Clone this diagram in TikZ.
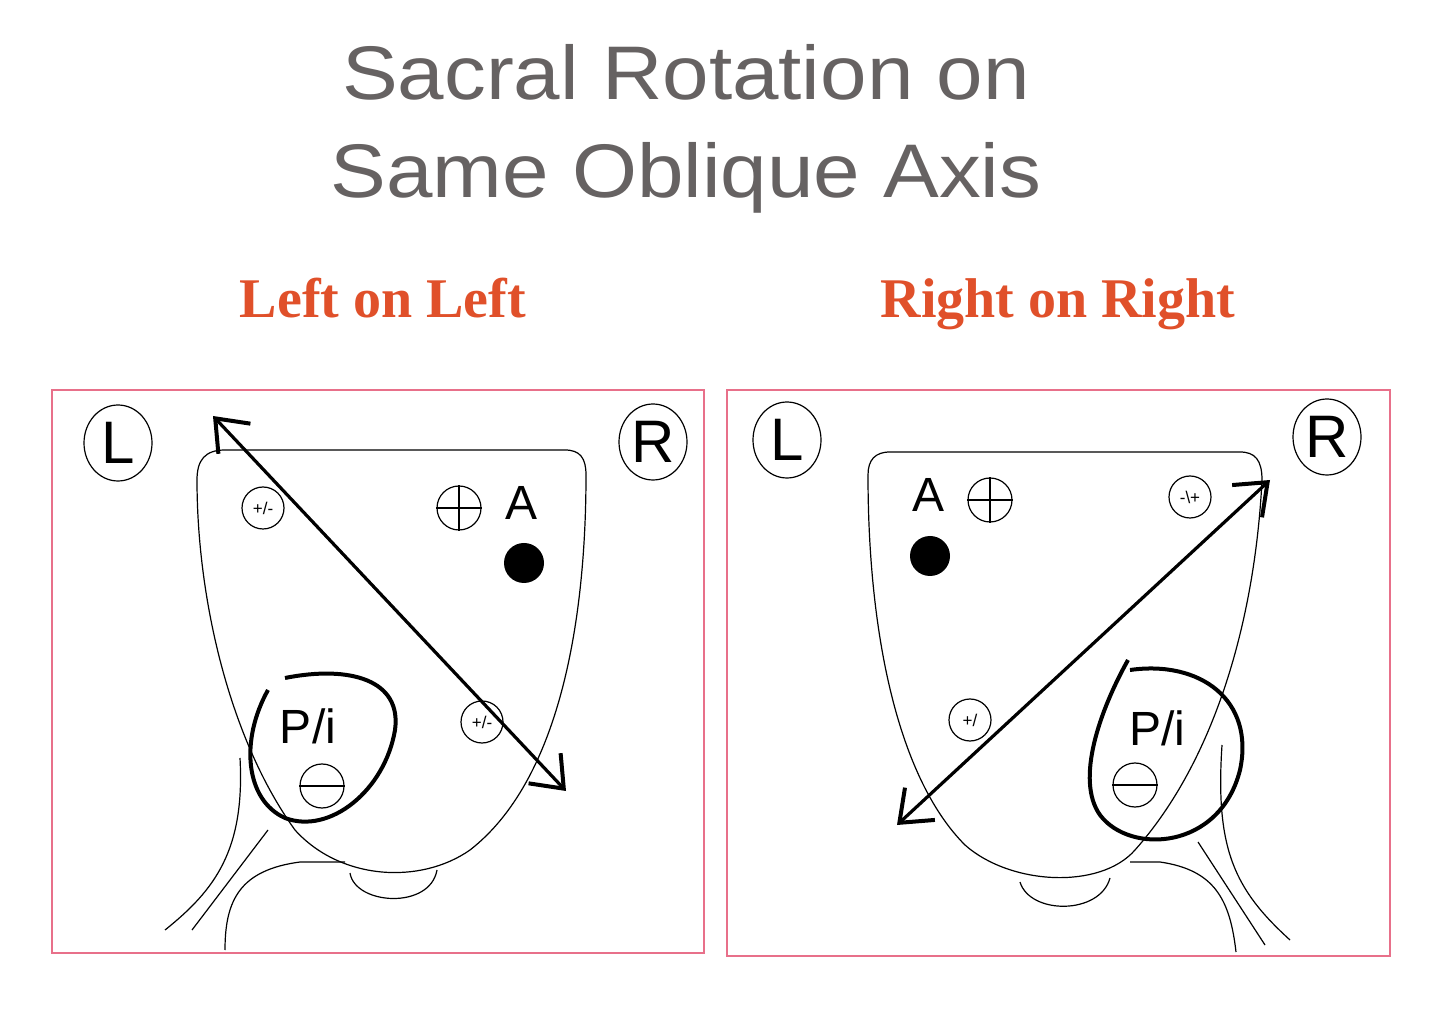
\documentclass[tikz,border=0pt]{standalone}
\usepackage{fontspec}
\setmainfont{Liberation Serif}
\setsansfont{Liberation Sans}
\usetikzlibrary{arrows.meta,shapes.geometric}
\definecolor{pinkb}{HTML}{E8708A}
\definecolor{ttl}{HTML}{666262}
\definecolor{sub}{HTML}{E0502A}
\tikzset{
 thin/.style={line width=0.6pt},
 axis/.style={line width=1.6pt,{Straight Barb[length=14pt,width=22pt,line width=2pt]}-{Straight Barb[length=14pt,width=22pt,line width=2pt]}},
 loop/.style={line width=2pt},
 lr/.style={draw,thin,ellipse,inner sep=0pt,minimum width=34pt,minimum height=38pt,font=\sffamily\fontsize{30}{30}\selectfont},
 sm/.style={draw,thin,circle,inner sep=0pt,minimum size=21pt,font=\sffamily\fontsize{8.5}{8.5}\selectfont},
 lab/.style={font=\sffamily\fontsize{24}{24}\selectfont},
 ttlstyle/.style={text=ttl,font=\sffamily\fontsize{38}{38}\selectfont,xscale=1.1},
 substyle/.style={text=sub,font=\bfseries\fontsize{28}{28}\selectfont,anchor=base}
}
\begin{document}
\begin{tikzpicture}[x=0.5pt,y=-0.5pt]
\useasboundingbox (0,0) rectangle (1440,1020);
\node[ttlstyle] (t1) at (686,72) {Sacral Rotation on};
\node[ttlstyle] (t2) at (686,178) {Same Oblique Axis};
\node[substyle] (s1) at (383,318) {Left on Left};
\node[substyle] (s2) at (1058,318) {Right on Right};
% boxes
\draw[pinkb,line width=1pt] (52,390) rectangle (704,953);
\draw[pinkb,line width=1pt] (727,390) rectangle (1390,956);
%% LEFT PANEL
\node[lr] (L1) at (118,443) {L};
\node[lr] (R1) at (653,442) {R};
\draw[thin] (197,480) .. controls (197,460) and (205,450) .. (225,450) -- (565,450) .. controls (580,450) and (586,458) .. (586,475)
  .. controls (586,620) and (560,780) .. (470,850) .. controls (420,885) and (340,880) .. (295,830)
  .. controls (230,740) and (197,600) .. (197,480);
\draw[thin] (350,873) .. controls (355,905) and (430,910) .. (437,870);
\draw[thin] (240,758) .. controls (245,850) and (215,890) .. (165,930);
\draw[thin] (268,830) -- (192,930);
\draw[thin] (225,950) .. controls (225,900) and (240,870) .. (300,862) -- (345,862);
\draw[axis] (213,416) -- (566,791);
\node[sm] (a1) at (263,508) {+/-};
\node[sm,minimum size=22pt] (p1) at (459,508) {};
\draw[thin] (p1.north) -- (p1.south) (p1.west) -- (p1.east);
\node[lab] (A1) at (522,503) {A};
\fill (524,563) circle (20) coordinate (d1);
\node[sm] (b1) at (482,722) {+/-};
\draw[loop] (268,690) .. controls (240,740) and (245,800) .. (285,818)
  .. controls (330,835) and (385,790) .. (395,730) .. controls (402,680) and (350,665) .. (285,678);
\node[lab] (P1) at (308,726) {P/i};
\node[sm,minimum size=22pt] (m1) at (322,786) {};
\draw[thin] (m1.west) -- (m1.east);
%% RIGHT PANEL
\node[lr] (L2) at (787,440) {L};
\node[lr] (R2) at (1327,437) {R};
\draw[thin] (868,475) .. controls (868,460) and (875,452) .. (890,452) -- (1240,452) .. controls (1255,452) and (1262,460) .. (1262,480)
  .. controls (1255,620) and (1215,760) .. (1135,850) .. controls (1100,890) and (1010,885) .. (965,845)
  .. controls (900,780) and (868,640) .. (868,475);
\draw[thin] (1020,882) .. controls (1030,915) and (1100,915) .. (1110,878);
\draw[thin] (1222,745) .. controls (1215,850) and (1235,890) .. (1290,940);
\draw[thin] (1198,842) -- (1265,945);
\draw[thin] (1236,952) .. controls (1230,900) and (1215,870) .. (1160,862) -- (1130,862);
\draw[axis] (1270,480) -- (897,825);
\node[sm] (b2) at (1190,497) {-\textbackslash+};
\node[sm,minimum size=22pt] (p2) at (990,500) {};
\draw[thin] (p2.north) -- (p2.south) (p2.west) -- (p2.east);
\node[lab] (A2) at (928,495) {A};
\fill (930,556) circle (20) coordinate (d2);
\node[sm] (a2) at (970,720) {+/};
\draw[loop] (1128,660) .. controls (1100,710) and (1075,780) .. (1100,815)
  .. controls (1130,855) and (1220,850) .. (1240,770) .. controls (1255,700) and (1200,660) .. (1130,670);
\node[lab] (P2) at (1157,728) {P/i};
\node[sm,minimum size=22pt] (m2) at (1135,785) {};
\draw[thin] (m2.west) -- (m2.east);
\end{tikzpicture}
\end{document}
